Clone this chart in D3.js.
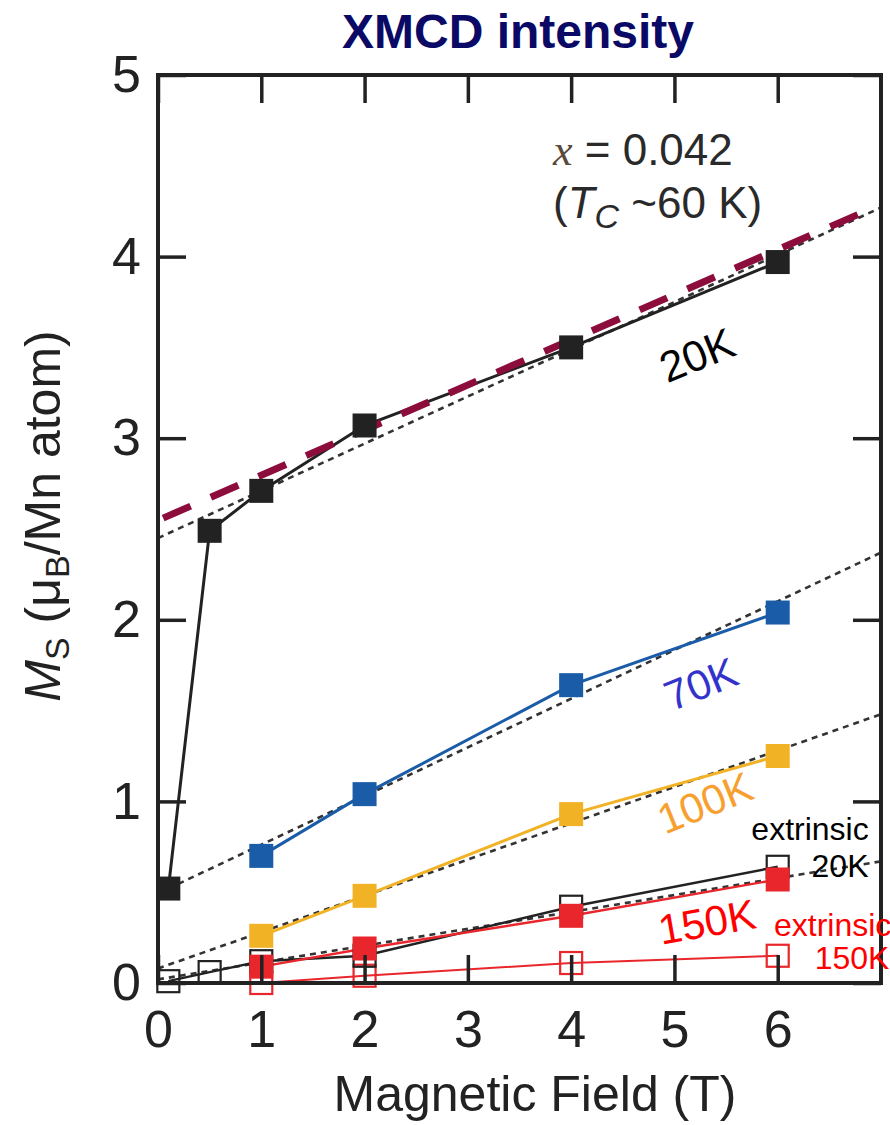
<!DOCTYPE html>
<html>
<head>
<meta charset="utf-8">
<script src="https://cdn.jsdelivr.net/npm/d3@7"></script>
<style>
  html, body { margin: 0; padding: 0; background: #fff; }
  svg { display: block; font-family: "Liberation Sans", Arial, sans-serif; }
</style>
</head>
<body>
<svg id="chart" width="890" height="1125"></svg>
<script>
// Saturation magnetisation from XMCD vs applied field
const fieldTicks = [0, 1, 2, 3, 4, 5, 6];
const msTicks = [0, 1, 2, 3, 4, 5];

const field20K = [0.1, 0.5, 1, 2, 4, 6];
const ms20K    = [0.52, 2.49, 2.71, 3.07, 3.50, 3.97];

const field70K = [1, 2, 4, 6];
const ms70K    = [0.70, 1.04, 1.64, 2.04];

const field100K = [1, 2, 4, 6];
const ms100K    = [0.26, 0.48, 0.93, 1.25];

const field150K = [1, 2, 4, 6];
const ms150K    = [0.09, 0.19, 0.37, 0.57];

const fieldExt20K = [0.1, 0.5, 1, 2, 4, 6];
const msExt20K    = [0.01, 0.06, 0.12, 0.15, 0.42, 0.64];

const fieldExt150K = [1, 2, 4, 6];
const msExt150K    = [0.00, 0.04, 0.11, 0.15];

// Linear fits (start and end points) drawn as short-dash lines
const fitStartField = [0, 0.1, 0, 0];
const fitStartMs    = [2.45, 0.52, 0.08, 0.02];
const fitEndField   = [7, 7, 7, 7];
const fitEndMs      = [4.27, 2.37, 1.48, 0.67];

// High-field extrapolation guide
const guideField = [0.05, 6.85];
const guideMs    = [2.56, 4.25];

const svg = d3.select("#chart");
const x = d3.scaleLinear().domain([0, 7]).range([158, 881]);
const y = d3.scaleLinear().domain([0, 5]).range([983, 75]);

const axisColor = "#222";
const tickLen = 28;

// title
svg.append("text")
  .attr("x", 518).attr("y", 48)
  .attr("text-anchor", "middle")
  .attr("font-size", 48).attr("font-weight", "bold")
  .attr("fill", "#0a0a66")
  .text("XMCD intensity");

const line = d3.line().x(d => x(d[0])).y(d => y(d[1]));

const plot = svg.append("g");
plot.append("defs").append("clipPath").attr("id", "clip")
  .append("rect").attr("x", x(0)).attr("y", y(5)).attr("width", x(7) - x(0)).attr("height", y(0) - y(5));

const inner = plot.append("g").attr("clip-path", "url(#clip)");

// fit lines
const fits = fitStartField.map((f, i) => [[f, fitStartMs[i]], [fitEndField[i], fitEndMs[i]]]);
fits.forEach(pts => {
  inner.append("path")
    .attr("d", line(pts))
    .attr("fill", "none")
    .attr("stroke", "#333")
    .attr("stroke-width", 2.6)
    .attr("stroke-dasharray", "6,5");
});

// series
const series = [
  { f: fieldExt150K, m: msExt150K, color: "#e8262c", open: true, lw: 2 },
  { f: fieldExt20K,  m: msExt20K,  color: "#222",    open: true, lw: 2.4 },
  { f: field150K,    m: ms150K,    color: "#e8262c", open: false, lw: 2.4 },
  { f: field100K,    m: ms100K,    color: "#f2b225", open: false, lw: 3 },
  { f: field70K,     m: ms70K,     color: "#1a5ca8", open: false, lw: 3 },
  { f: field20K,     m: ms20K,     color: "#222",    open: false, lw: 3 }
];

series.forEach(s => {
  const pts = s.f.map((f, i) => [f, s.m[i]]);
  inner.append("path")
    .attr("d", line(pts))
    .attr("fill", "none")
    .attr("stroke", s.color)
    .attr("stroke-width", s.lw);
});

series.forEach(s => {
  const size = s.open ? 22 : 24;
  s.f.forEach((f, i) => {
    plot.append("rect")
      .attr("x", x(f) - size / 2)
      .attr("y", y(s.m[i]) - size / 2)
      .attr("width", size).attr("height", size)
      .attr("fill", s.open ? "none" : s.color)
      .attr("stroke", s.open ? s.color : "none")
      .attr("stroke-width", 2.2);
  });
});

// extrapolation guide
inner.append("path")
  .attr("d", line(guideField.map((f, i) => [f, guideMs[i]])))
  .attr("fill", "none")
  .attr("stroke", "#8c0c3c")
  .attr("stroke-width", 7)
  .attr("stroke-dasharray", "30,22");

// frame and inward ticks
const frame = svg.append("g");
frame.append("rect")
  .attr("x", x(0)).attr("y", y(5))
  .attr("width", x(7) - x(0)).attr("height", y(0) - y(5))
  .attr("fill", "none").attr("stroke", axisColor).attr("stroke-width", 4);

const fmt = d3.format("d");
const xAxisB = d3.axisBottom(x).tickValues(fieldTicks).tickSize(-tickLen).tickPadding(27).tickFormat(fmt);
const xAxisT = d3.axisTop(x).tickValues(fieldTicks).tickSize(-tickLen).tickFormat("");
const yAxisL = d3.axisLeft(y).tickValues(msTicks).tickSize(-tickLen).tickPadding(17).tickFormat(fmt);
const yAxisR = d3.axisRight(y).tickValues(msTicks).tickSize(-tickLen).tickFormat("");

function styleAxis(g) {
  g.select(".domain").remove();
  g.selectAll(".tick line").attr("stroke", axisColor).attr("stroke-width", 3.5);
  g.selectAll(".tick text").attr("fill", "#222").attr("font-family", "Liberation Sans, Arial, sans-serif");
}

frame.append("g").attr("transform", `translate(0,${y(0)})`).call(xAxisB).call(styleAxis)
  .selectAll(".tick text").attr("font-size", 52).attr("dy", "0.71em");
frame.append("g").attr("transform", `translate(0,${y(5)})`).call(xAxisT).call(styleAxis);
frame.append("g").attr("transform", `translate(${x(0)},0)`).call(yAxisL).call(styleAxis)
  .selectAll(".tick text").attr("font-size", 52);
frame.append("g").attr("transform", `translate(${x(7)},0)`).call(yAxisR).call(styleAxis);

// axis titles
svg.append("text")
  .attr("x", 535).attr("y", 1111)
  .attr("text-anchor", "middle")
  .attr("font-size", 50).attr("fill", "#222")
  .text("Magnetic Field (T)");

const yt = svg.append("text")
  .attr("transform", "translate(60,516) rotate(-90)")
  .attr("text-anchor", "middle")
  .attr("font-size", 50).attr("fill", "#222");
yt.append("tspan").attr("font-style", "italic").text("M");
yt.append("tspan").attr("font-size", 34).attr("dy", 9).text("S");
yt.append("tspan").attr("dy", -9).text(" (μ");
yt.append("tspan").attr("font-size", 34).attr("dy", 9).text("B");
yt.append("tspan").attr("dy", -9).text("/Mn atom)");

// composition annotation
const a1 = svg.append("text").attr("x", 553).attr("y", 165).attr("font-size", 44).attr("fill", "#2a2a2a");
a1.append("tspan").attr("font-family", "Liberation Serif, Times New Roman, serif").attr("font-style", "italic").attr("fill", "#5a4a3a").text("x");
a1.append("tspan").text(" = 0.042");
const a2 = svg.append("text").attr("x", 553).attr("y", 218).attr("font-size", 44).attr("fill", "#2a2a2a");
a2.append("tspan").text("(");
a2.append("tspan").attr("font-style", "italic").text("T");
a2.append("tspan").attr("font-style", "italic").attr("font-size", 34).attr("dy", 10).text("C");
a2.append("tspan").attr("dy", -10).text(" ~60 K)");

// curve labels
function label(txt, cx, cy, size, color, angle, anchor) {
  svg.append("text")
    .attr("transform", `translate(${cx},${cy}) rotate(${angle})`)
    .attr("text-anchor", anchor || "middle").attr("dominant-baseline", "central")
    .attr("font-size", size).attr("fill", color)
    .text(txt);
}
label("20K", 697, 355, 43, "#000", -22);
label("70K", 701, 684, 42, "#3333cc", -22);
label("100K", 705, 803, 42, "#f7a030", -22);
label("150K", 707, 922, 42, "#ff0000", -10);
label("extrinsic", 810, 829, 32, "#000", 0);
label("20K", 840, 866, 32, "#000", 0);
label("extrinsic", 774, 925, 32, "#ff0000", 0, "start");
label("150K", 852, 958, 32, "#ff0000", 0);
</script>
</body>
</html>
